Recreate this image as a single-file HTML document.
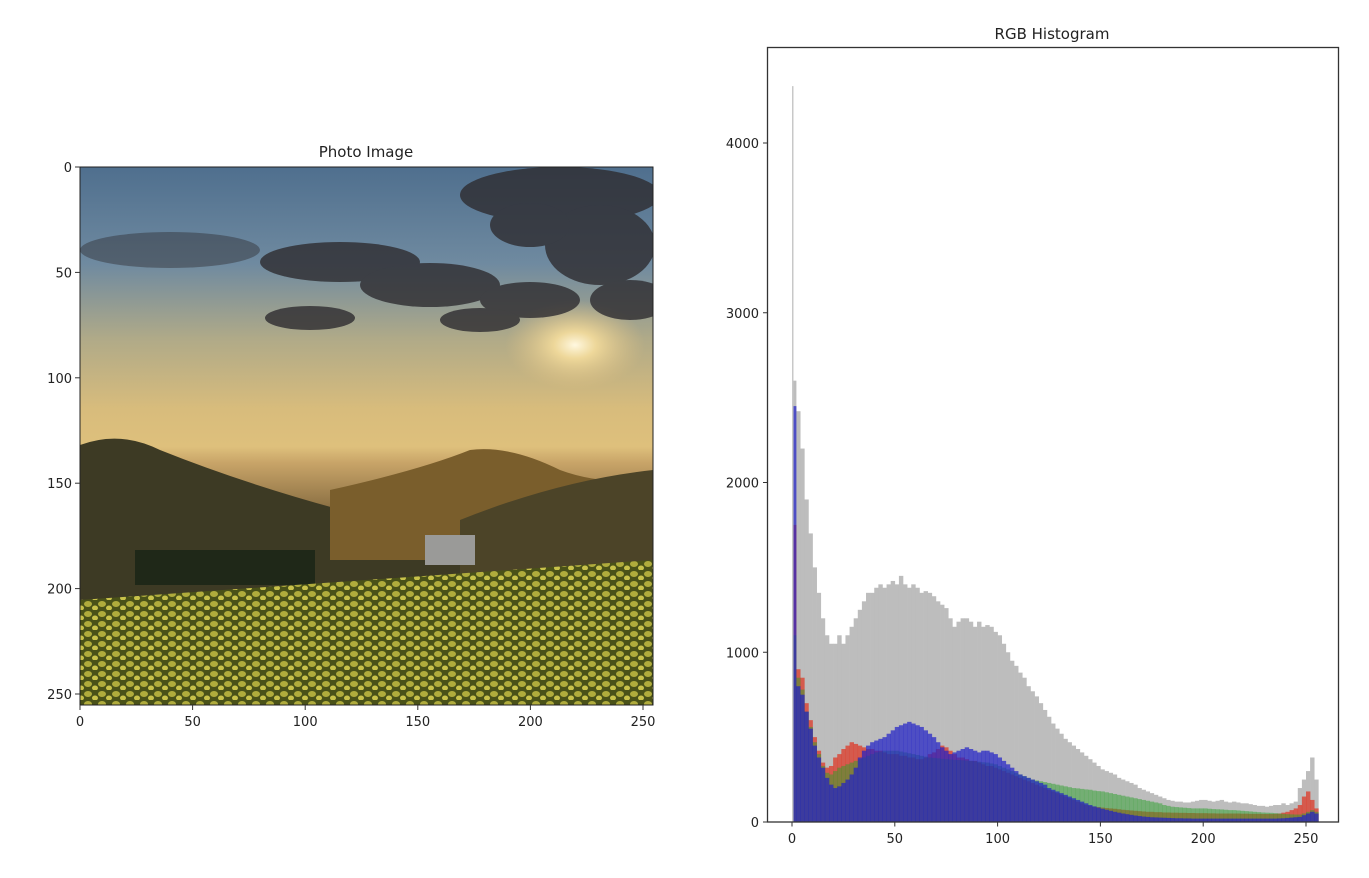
<!DOCTYPE html>
<html><head><meta charset="utf-8"><style>
body{margin:0;background:#fff;width:1369px;height:878px;overflow:hidden;font-family:"Liberation Sans","DejaVu Sans",sans-serif;}
svg{display:block}
text{font-family:"DejaVu Sans","Liberation Sans",sans-serif;fill:#222;}
</style></head><body>
<svg id="root" width="1369" height="878" viewBox="0 0 1369 878">
<defs>
<linearGradient id="sky" x1="0" y1="0" x2="0" y2="1">
<stop offset="0" stop-color="#4f6f8e"/><stop offset="0.18" stop-color="#6f8aa0"/>
<stop offset="0.32" stop-color="#b0aa88"/><stop offset="0.45" stop-color="#d8bc7c"/>
<stop offset="0.52" stop-color="#dec07c"/><stop offset="0.55" stop-color="#c8a468"/>
<stop offset="0.68" stop-color="#6a5430"/><stop offset="0.75" stop-color="#4e4a26"/>
<stop offset="0.79" stop-color="#626a26"/><stop offset="0.85" stop-color="#6f7a22"/>
<stop offset="1" stop-color="#4e5a18"/></linearGradient>
<radialGradient id="sun" cx="0.5" cy="0.5" r="0.5"><stop offset="0" stop-color="#fff8e0"/><stop offset="0.3" stop-color="#f4dc9c" stop-opacity="0.9"/><stop offset="1" stop-color="#e0c080" stop-opacity="0"/></radialGradient>
<pattern id="flowers" width="14" height="10" patternUnits="userSpaceOnUse"><rect width="14" height="10" fill="#4a5218"/><ellipse cx="4" cy="4" rx="4" ry="3" fill="#b0ac3c"/><ellipse cx="11" cy="8" rx="3" ry="2.5" fill="#c8c24a"/></pattern>
<clipPath id="imgclip"><rect x="80" y="167" width="573" height="538"/></clipPath>
</defs>
<g>
<text x="366" y="157" text-anchor="middle" font-size="15">Photo Image</text>
<g clip-path="url(#imgclip)">
<rect x="80" y="167" width="573" height="538" fill="url(#sky)"/>
<ellipse cx="575" cy="345" rx="70" ry="45" fill="url(#sun)"/>
<g fill="#2e2c30" opacity="0.8">
<ellipse cx="560" cy="195" rx="100" ry="28"/><ellipse cx="600" cy="245" rx="55" ry="40"/>
<ellipse cx="530" cy="225" rx="40" ry="22"/><ellipse cx="630" cy="300" rx="40" ry="20"/>
<ellipse cx="340" cy="262" rx="80" ry="20"/><ellipse cx="430" cy="285" rx="70" ry="22"/>
<ellipse cx="170" cy="250" rx="90" ry="18" opacity="0.55"/><ellipse cx="310" cy="318" rx="45" ry="12"/>
<ellipse cx="530" cy="300" rx="50" ry="18"/><ellipse cx="480" cy="320" rx="40" ry="12"/></g>
<path d="M80 445 Q120 430 160 450 Q260 490 380 520 L653 530 L653 705 L80 705Z" fill="#3d3a24"/>
<path d="M330 490 Q420 470 470 450 Q510 445 560 470 Q600 485 653 480 L653 560 L330 560Z" fill="#7a5e2c"/>
<path d="M460 520 Q560 480 653 470 L653 580 L460 580Z" fill="#4c4428"/>
<rect x="135" y="550" width="180" height="35" fill="#1f2818"/>
<rect x="425" y="535" width="50" height="30" fill="#9a9a98"/>
<path d="M80 600 L653 560 L653 705 L80 705Z" fill="url(#flowers)"/>
</g>
<rect x="80" y="167" width="573" height="538" fill="none" stroke="#222" stroke-width="1"/>
<g id="photoTicks"></g>
</g>
<g>
<text x="1052" y="39" text-anchor="middle" font-size="15">RGB Histogram</text>
<g id="bars"></g>
<rect x="767.5" y="47.5" width="571" height="774.5" fill="none" stroke="#333" stroke-width="1.3"/>
<g id="histTicks"></g>
</g>
</svg>
<script>
const binStarts=[0,2,4,6,8,10,12,14,16,18,20,22,24,26,28,30,32,34,36,38,40,42,44,46,48,50,52,54,56,58,60,62,64,66,68,70,72,74,76,78,80,82,84,86,88,90,92,94,96,98,100,102,104,106,108,110,112,114,116,118,120,122,124,126,128,130,132,134,136,138,140,142,144,146,148,150,152,154,156,158,160,162,164,166,168,170,172,174,176,178,180,182,184,186,188,190,192,194,196,198,200,202,204,206,208,210,212,214,216,218,220,222,224,226,228,230,232,234,236,238,240,242,244,246,248,250,252,254];
const grayVals=[2600,2420,2200,1900,1700,1500,1350,1200,1100,1050,1050,1100,1050,1100,1150,1200,1250,1300,1350,1350,1380,1400,1380,1400,1420,1400,1450,1400,1380,1400,1380,1350,1360,1350,1330,1300,1280,1260,1200,1150,1180,1200,1200,1180,1150,1180,1150,1160,1150,1120,1100,1050,1000,950,920,880,850,800,770,740,700,660,620,580,550,520,490,470,450,430,410,390,370,350,330,310,300,290,280,260,250,240,230,220,200,190,180,170,160,150,140,130,125,120,120,115,115,120,125,130,130,125,120,125,130,120,115,120,115,110,110,105,100,95,95,90,95,100,100,110,100,110,120,200,250,300,380,250];
const redVals=[1750,900,850,700,600,500,420,350,320,330,380,400,430,450,470,460,450,440,430,430,420,420,410,400,400,400,390,390,380,380,370,370,380,400,410,430,450,440,420,400,380,380,370,360,360,350,340,330,330,320,310,300,290,280,270,260,250,240,230,220,210,200,190,180,170,160,150,140,130,120,110,100,95,90,88,85,82,80,78,75,72,70,68,66,64,62,60,60,58,58,56,56,55,55,54,54,53,53,52,52,52,51,51,50,50,50,50,50,50,49,49,48,48,48,47,47,47,48,50,55,60,70,80,100,150,180,130,80];
const greenVals=[1100,850,780,650,560,470,400,330,290,280,300,320,330,340,350,360,370,380,390,400,410,415,420,420,420,420,415,410,405,400,395,390,385,380,378,375,372,370,368,366,365,364,362,360,358,355,352,350,345,340,330,320,310,300,290,280,270,260,250,245,240,235,230,225,220,215,210,205,200,198,195,192,190,185,182,180,175,170,165,160,155,150,145,140,135,130,125,120,115,110,100,95,90,88,86,84,82,80,80,80,80,78,76,75,74,72,70,70,68,66,64,62,60,58,56,55,54,52,50,48,46,45,44,44,50,60,70,60];
const blueVals=[2450,800,750,650,550,450,380,320,260,220,200,210,230,250,280,320,380,420,450,470,480,490,500,520,540,560,570,580,590,580,570,560,540,520,500,470,440,420,400,410,420,430,440,430,420,410,420,420,410,400,380,360,340,320,300,280,270,260,250,240,230,220,200,190,180,170,160,150,140,130,120,110,100,92,85,78,72,66,60,55,50,46,42,38,35,32,30,28,27,26,25,24,23,22,22,21,21,20,20,20,20,20,20,20,20,20,20,20,20,20,20,20,20,20,20,20,20,20,21,22,24,26,28,30,40,50,60,50];
const yTicks=[0,1000,2000,3000,4000];
const xTicks=[0,50,100,150,200,250];
const photoTicks=[0,50,100,150,200,250];

const NS='http://www.w3.org/2000/svg';
function mk(tag,attrs,parent){const e=document.createElementNS(NS,tag);for(const k in attrs)e.setAttribute(k,attrs[k]);parent.appendChild(e);return e;}
const X0=792, XS=(1306-792)/250, Y0=822, YS=(822-143)/4000;
const xs=v=>X0+v*XS, ys=v=>Y0-v*YS;
const bars=document.getElementById('bars');
function series(vals,color,op,name){
  vals.forEach((v,i)=>{
    const r=mk('rect',{x:xs(binStarts[i]),y:ys(v),width:2*XS+0.3,height:v*YS,fill:color,'fill-opacity':op},bars);
    
    
  });
}
series(grayVals,'#bdbdbd',1,'gray');
series(redVals,'#e0301e',0.7,'red');
series(greenVals,'#2ca02c',0.5,'green');
series(blueVals,'#2020c8',0.7,'blue');
const sp=mk('rect',{x:xs(0),y:ys(4335),width:1.5,height:4335*YS,fill:'#c8c8c8'},bars);


const ht=document.getElementById('histTicks');
yTicks.forEach(t=>{
  mk('line',{x1:763,x2:767.5,y1:ys(t),y2:ys(t),stroke:'#333'},ht);
  const tx=mk('text',{x:759,y:ys(t)+5,'text-anchor':'end','font-size':13},ht);tx.textContent=t;
  
  
});
xTicks.forEach(t=>{
  mk('line',{x1:xs(t),x2:xs(t),y1:822,y2:826.5,stroke:'#333'},ht);
  const tx=mk('text',{x:xs(t),y:843,'text-anchor':'middle','font-size':13},ht);tx.textContent=t;
  
  
});
const pt=document.getElementById('photoTicks');
const px=v=>80+v*(643-80)/250, py=v=>167+v*(694-167)/250;
photoTicks.forEach(t=>{
  mk('line',{x1:px(t),x2:px(t),y1:705,y2:710,stroke:'#333'},pt);
  const a=mk('text',{x:px(t),y:726,'text-anchor':'middle','font-size':13},pt);a.textContent=t;
  
  
  mk('line',{x1:75,x2:80,y1:py(t),y2:py(t),stroke:'#333'},pt);
  const b=mk('text',{x:72,y:py(t)+5,'text-anchor':'end','font-size':13},pt);b.textContent=t;
  
  
});
</script>
</body></html>
